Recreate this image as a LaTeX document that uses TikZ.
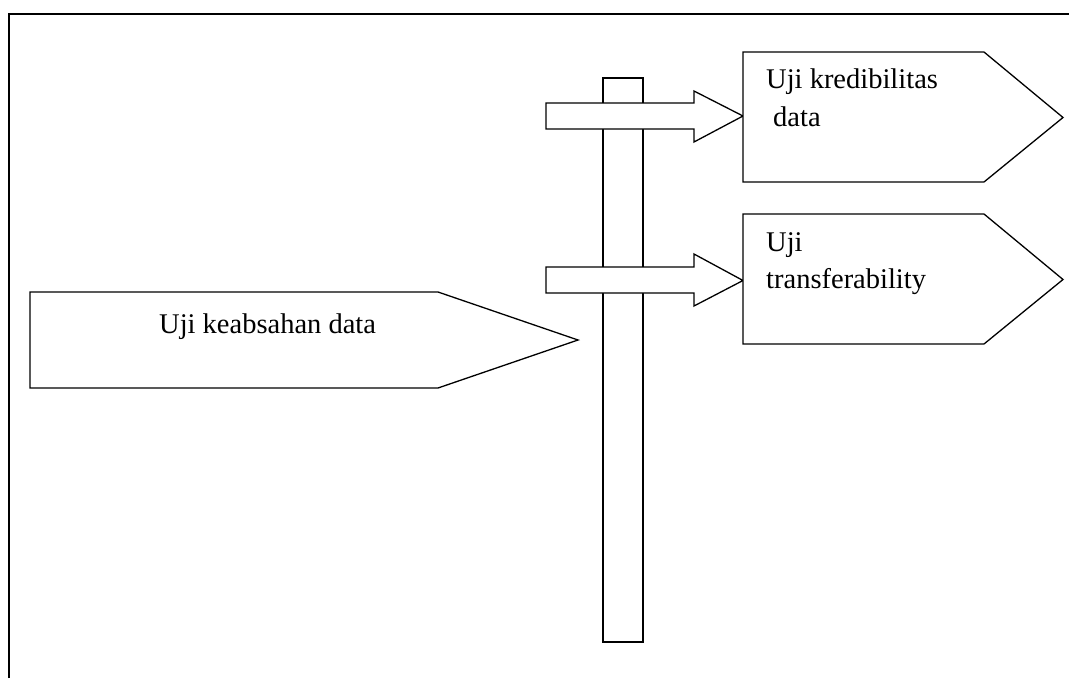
\documentclass[tikz,border=0pt]{standalone}
\usepackage{fontspec}
\setmainfont{Liberation Serif}
\begin{document}
\begin{tikzpicture}[x=1pt,y=-1pt,
  shapeline/.style={draw=black,line width=1.3pt,fill=white,line join=miter},
  frameline/.style={draw=black,line width=2pt},
  lbl/.style={inner sep=0pt,anchor=base west,font=\fontsize{28.5}{34}\selectfont}]
\useasboundingbox (0,0) rectangle (1069,678);
\fill[white] (0,0) rectangle (1069,678);
% outer frame (open to the right and bottom)
\draw[frameline] (9,678) -- (9,14) -- (1069,14);
% pole
\draw[shapeline] (603,78) rectangle (643,642);
% block arrows
\draw[shapeline] (546,103) -- (694,103) -- (694,91) -- (743,116) -- (694,142) -- (694,129) -- (546,129) -- cycle;
\draw[shapeline] (546,267) -- (694,267) -- (694,254) -- (743,280.5) -- (694,306) -- (694,293) -- (546,293) -- cycle;
% signposts
\draw[shapeline] (743,52) -- (984,52) -- (1063,117.5) -- (984,182) -- (743,182) -- cycle;
\draw[shapeline] (743,214) -- (984,214) -- (1063,279.5) -- (984,344) -- (743,344) -- cycle;
\draw[shapeline] (30,292) -- (438,292) -- (578,340) -- (438,388) -- (30,388) -- cycle;
% texts
\node[lbl] (k1) at (766,88) {Uji kredibilitas};
\node[lbl] (k2) at (773,126) {data};
\node[lbl] (t1) at (766,251) {Uji};
\node[lbl] (t2) at (766,288) {transferability};
\node[lbl] (u) at (159,333) {Uji keabsahan data};
\end{tikzpicture}
\end{document}
